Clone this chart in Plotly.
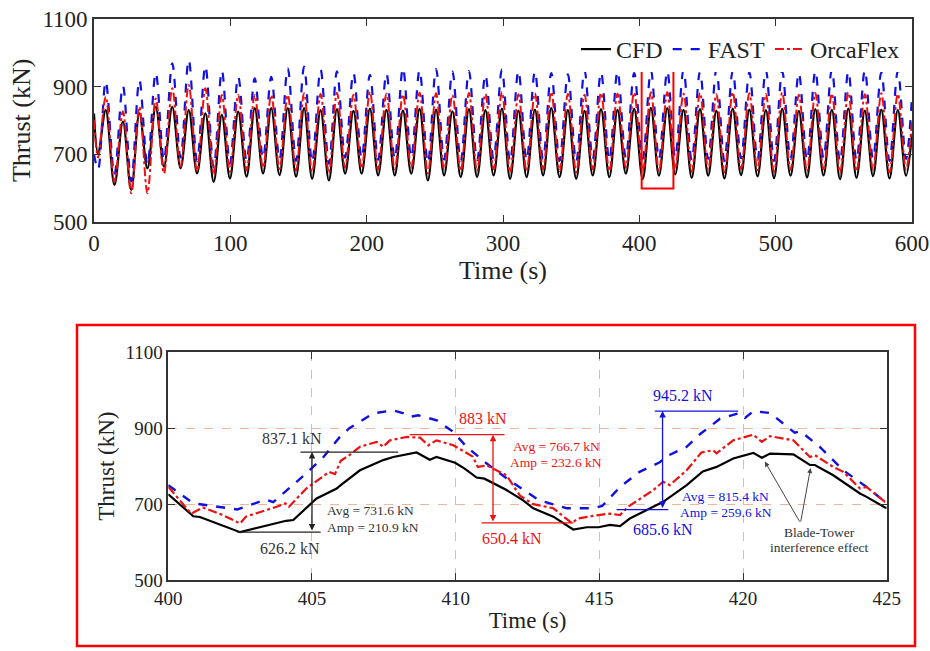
import plotly.graph_objects as go

# ---------------- Top panel data: extrema read from the 0-600 s record ----------------
trough_time = [3.0, 15.0, 27.3, 39.2, 51.3, 63.5, 75.6, 87.8, 99.7, 111.9,
               124.0, 136.1, 148.2, 160.0, 172.3, 184.2, 196.3, 208.4, 220.6, 232.7,
               244.9, 256.8, 269.0, 281.0, 293.1, 305.2, 317.3, 329.4, 341.5, 353.7,
               365.8, 378.0, 390.1, 402.5, 414.4, 426.3, 438.4, 450.5, 462.4, 474.6,
               486.7, 498.8, 510.9, 523.0, 535.1, 547.2, 559.3, 571.4, 583.5, 595.6]
peak_time = [8.6, 21.2, 33.3, 45.3, 57.4, 69.5, 81.7, 93.8, 105.8, 117.9,
             130.0, 142.1, 154.1, 166.2, 178.2, 190.3, 202.4, 214.5, 226.6, 238.8,
             250.9, 262.9, 275.0, 287.1, 299.2, 311.3, 323.4, 335.4, 347.6, 359.8,
             371.9, 384.0, 396.2, 408.5, 420.5, 432.4, 444.5, 456.5, 468.5, 480.7,
             492.8, 504.8, 517.0, 529.1, 541.2, 553.3, 565.4, 577.5, 589.6]
start_time, end_time = 0.0, 600.0

cfd_start, cfd_end = 820, 760
cfd_trough = [700, 609, 594, 658, 663, 658, 643, 618, 628, 633, 643, 638, 633, 627, 622, 642, 642,
              637, 637, 642, 622, 637, 632, 632, 637, 627, 632, 637, 632, 627, 637, 632, 642, 626,
              636, 640, 630, 636, 628, 638, 634, 629, 636, 631, 637, 626, 630, 635, 628, 636]
cfd_peak = [830, 796, 821, 840, 840, 830, 821, 816, 826, 836, 836, 836, 836, 830, 833, 828, 835,
            831, 829, 834, 832, 827, 833, 830, 835, 829, 832, 836, 830, 828, 833, 831, 834, 837,
            836, 831, 833, 829, 835, 832, 830, 834, 828, 833, 831, 835, 829, 832, 830]

fast_start, fast_end = 700, 870
fast_trough = [655, 640, 620, 668, 682, 690, 680, 660, 672, 680, 688, 684, 680, 676, 672, 690, 688,
               684, 686, 690, 674, 684, 680, 682, 686, 678, 682, 686, 680, 678, 686, 682, 690, 686,
               686, 690, 682, 686, 680, 688, 684, 680, 686, 682, 688, 678, 682, 686, 680, 686]
fast_peak = [915, 902, 919, 941, 969, 979, 961, 947, 929, 924, 929, 954, 959, 950, 945, 940, 935,
             938, 955, 948, 952, 944, 946, 935, 950, 946, 944, 940, 936, 948, 942, 945, 940, 947,
             945, 948, 944, 950, 946, 942, 949, 945, 940, 946, 950, 944, 948, 942, 946]

orca_start, orca_end = 800, 800
orca_trough = [690, 618, 584, 584, 643, 663, 650, 640, 648, 652, 660, 656, 652, 648, 644, 660, 658,
               654, 655, 660, 643, 655, 650, 650, 656, 646, 650, 655, 650, 646, 655, 650, 660, 650,
               650, 657, 648, 654, 646, 656, 652, 647, 654, 649, 655, 645, 649, 654, 646, 654]
orca_peak = [870, 826, 840, 865, 895, 905, 895, 875, 875, 875, 875, 875, 880, 878, 882, 876, 884,
             879, 877, 882, 880, 875, 881, 878, 883, 877, 880, 884, 878, 876, 881, 879, 882, 883,
             883, 879, 881, 877, 883, 880, 878, 882, 876, 881, 879, 883, 877, 880, 878]

# ---------------- Bottom panel data: 400-425 s detail ----------------
cfd_t = [400.0, 400.87, 401.1, 402.5, 403.5, 404.1, 404.35, 405.16, 405.86, 406.0, 406.67, 407.48,
         407.83, 408.64, 409.1, 409.33, 409.98, 410.3, 410.73, 411.0, 411.77, 412.35, 412.7, 413.4,
         414.09, 414.56, 414.97, 415.37, 415.72, 416.06, 417.22, 417.45, 418.04, 418.6, 419.08,
         419.66, 420.36, 420.65, 420.94, 421.75, 422.33, 422.5, 423.14, 424.07, 424.3, 424.94, 425.0]
cfd_v = [726, 668, 666, 626, 645, 656, 658, 715, 741, 750, 789, 816,
         824, 836, 817, 824, 809, 794, 770, 767, 737, 710, 689, 667,
         633, 639, 639, 645, 642, 662, 706, 719, 750, 786, 798,
         820, 835, 822, 833, 831, 803, 803, 776, 728, 719, 691, 690]

fast_t = [400.0, 400.87, 402.4, 403.4, 403.65, 404.8, 405.4, 405.97, 406.3, 406.55, 407.13, 407.83,
          408.2, 408.4, 408.7, 409.34, 409.92, 410.38, 411.08, 411.77, 412.35, 412.9, 413.86, 414.79,
          415.1, 415.72, 416.4, 417.1, 417.34, 418.04, 418.5, 419.2, 419.89, 420.07, 420.36, 420.94,
          421.6, 421.8, 422.0, 422.67, 423.49, 424.3, 424.94, 425.0]
fast_v = [750, 702, 686, 712, 705, 781, 824, 877, 900, 912, 939, 947,
          939, 930, 934, 921, 890, 851, 807, 768, 737, 710, 689, 689,
          695, 745, 785, 810, 826, 851, 884, 925, 940, 927, 945, 940,
          900, 888, 892, 851, 789, 745, 706, 705]

orca_t = [400.0, 400.8, 401.2, 401.9, 402.5, 402.7, 403.77, 404.07, 404.2, 404.8, 405.6, 405.8,
          406.0, 406.3, 406.67, 407.25, 407.48, 407.71, 408.3, 408.76, 409.05, 409.33, 409.92, 410.6,
          410.77, 411.08, 411.77, 412.24, 412.7, 413.4, 414.04, 414.26, 414.97, 415.37, 415.72, 416.0,
          416.88, 417.22, 417.45, 418.04, 418.55, 418.96, 419.08, 419.66, 420.36, 420.65, 420.94,
          421.75, 422.33, 422.5, 423.14, 423.49, 424.07, 424.3, 424.94, 425.0]
orca_v = [745, 675, 691, 671, 649, 667, 693, 702, 693, 741, 785, 779,
          814, 829, 851, 864, 851, 868, 877, 875, 855, 868, 855, 825,
          798, 802, 776, 722, 700, 689, 650, 662, 671, 675, 671, 693,
          737, 759, 750, 789, 836, 842, 834, 868, 883, 864, 879,
          868, 824, 829, 798, 785, 741, 745, 706, 705]


def interleave(start, troughs, peaks, end):
    out = [start]
    for i, tv in enumerate(troughs):
        out.append(tv)
        if i < len(peaks):
            out.append(peaks[i])
    out.append(end)
    return out


top_time = interleave(start_time, trough_time, peak_time, end_time)
cfd_top = interleave(cfd_start, cfd_trough, cfd_peak, cfd_end)
fast_top = interleave(fast_start, fast_trough, fast_peak, fast_end)
orca_top = interleave(orca_start, orca_trough, orca_peak, orca_end)

BLACK = "#000000"
BLUE = "#1010e0"
RED = "#ee1111"
GRID = "#f0b49c"
FONT = "Times New Roman, Liberation Serif, Times, serif"

fig = go.Figure()

# top panel
fig.add_trace(go.Scatter(x=top_time, y=cfd_top, mode="lines", name="CFD",
                         line=dict(color=BLACK, width=2.2, shape="spline", smoothing=1.0),
                         xaxis="x", yaxis="y"))
fig.add_trace(go.Scatter(x=top_time, y=fast_top, mode="lines", name="FAST",
                         line=dict(color=BLUE, width=2.2, dash="dash", shape="spline", smoothing=1.0),
                         xaxis="x", yaxis="y"))
fig.add_trace(go.Scatter(x=top_time, y=orca_top, mode="lines", name="OrcaFlex",
                         line=dict(color=RED, width=2, dash="dashdot", shape="spline", smoothing=1.0),
                         xaxis="x", yaxis="y"))

# bottom panel
fig.add_trace(go.Scatter(x=cfd_t, y=cfd_v, mode="lines", showlegend=False,
                         line=dict(color=BLACK, width=2.2), xaxis="x2", yaxis="y2"))
fig.add_trace(go.Scatter(x=fast_t, y=fast_v, mode="lines", showlegend=False,
                         line=dict(color=BLUE, width=2.4, dash="dash"), xaxis="x2", yaxis="y2"))
fig.add_trace(go.Scatter(x=orca_t, y=orca_v, mode="lines", showlegend=False,
                         line=dict(color=RED, width=2.2, dash="dashdot"), xaxis="x2", yaxis="y2"))

W, H = 930, 651
axis_common = dict(showline=True, linecolor="#333333", linewidth=1.6, mirror="ticks",
                   ticks="inside", tickcolor="#333333", zeroline=False, automargin=False)

fig.update_layout(
    width=W, height=H,
    margin=dict(l=0, r=0, t=0, b=0, autoexpand=False),
    paper_bgcolor="white", plot_bgcolor="white",
    font=dict(family=FONT, color="#222222"),
    xaxis=dict(domain=[94 / W, 912 / W], range=[0, 600], tickvals=[0, 100, 200, 300, 400, 500, 600],
               ticklen=7, showgrid=False, tickfont=dict(size=23), anchor="y",
               title=dict(text="Time (s)", font=dict(size=26), standoff=2), **axis_common),
    yaxis=dict(domain=[1 - 221.7 / H, 1 - 19 / H], range=[500, 1100], tickvals=[500, 700, 900, 1100],
               ticklen=7, showgrid=False, tickfont=dict(size=23), anchor="x",
               title=dict(text="Thrust (kN)", font=dict(size=26), standoff=4), **axis_common),
    xaxis2=dict(domain=[168.3 / W, 886.7 / W], range=[400, 425], tickvals=[400, 405, 410, 415, 420, 425],
                ticklen=7, showgrid=True, gridcolor=GRID, griddash="dash", gridwidth=1,
                tickfont=dict(size=19), anchor="y2",
                title=dict(text="Time (s)", font=dict(size=23), standoff=4), **axis_common),
    yaxis2=dict(domain=[1 - 580 / H, 1 - 352.3 / H], range=[500, 1100], tickvals=[500, 700, 900, 1100],
                ticklen=7, showgrid=True, gridcolor=GRID, griddash="dash", gridwidth=1,
                tickfont=dict(size=19), anchor="x2",
                title=dict(text="Thrust (kN)", font=dict(size=23), standoff=4), **axis_common),
    legend=dict(orientation="h", x=905 / W, xanchor="right", y=1 - 27 / H, yanchor="top",
                bgcolor="white", font=dict(size=24, family=FONT, color="#222222"),
                itemwidth=30, tracegroupgap=0),
)

shapes = []
# red highlight box in top panel
shapes.append(dict(type="rect", xref="x", yref="y", x0=401.7, x1=425, y0=598, y1=975,
                   line=dict(color="#ff0000", width=2)))
# red frame around bottom panel
shapes.append(dict(type="rect", xref="paper", yref="paper", x0=77 / W, x1=915 / W,
                   y0=1 - 646 / H, y1=1 - 325 / H, line=dict(color="#ff0000", width=2.5)))
# horizontal reference lines in bottom panel
hlines = [
    (404.6, 408.0, 837.1, "#222222"), (402.4, 405.3, 626.2, "#222222"),
    (408.4, 411.7, 883.0, RED), (410.9, 414.1, 650.4, RED),
    (416.93, 419.83, 945.2, BLUE), (415.6, 417.4, 685.6, BLUE),
]
for x0, x1, yv, c in hlines:
    shapes.append(dict(type="line", xref="x2", yref="y2", x0=x0, x1=x1, y0=yv, y1=yv,
                       line=dict(color=c, width=1.2)))
fig.update_layout(shapes=shapes)

ann = []
# double arrows
for xv, y0, y1, c in [(405.0, 626.2, 837.1, "#222222"), (411.3, 650.4, 883.0, RED),
                      (417.2, 685.6, 945.2, BLUE)]:
    ann.append(dict(x=xv, y=y1, ax=xv, ay=y0, xref="x2", yref="y2", axref="x2", ayref="y2",
                    text="", showarrow=True, arrowhead=2, arrowsize=1, arrowwidth=1.3,
                    arrowcolor=c, arrowside="end+start"))

LBL = 16
SML = 13.5
labels = [
    ("837.1 kN", 404.3, 873, "#333333", LBL, "center"),
    ("626.2 kN", 404.25, 584, "#333333", LBL, "center"),
    ("883 kN", 410.96, 925, RED, LBL, "center"),
    ("650.4 kN", 411.95, 610, RED, LBL, "center"),
    ("945.2 kN", 417.9, 987, BLUE, LBL, "center"),
    ("685.6 kN", 417.2, 632, BLUE, LBL, "center"),
    ("Avg = 731.6 kN", 405.45, 684, "#333333", SML, "left"),
    ("Amp = 210.9 kN", 405.45, 639, "#333333", SML, "left"),
    ("Avg = 766.7 kN", 413.5, 851, RED, SML, "center"),
    ("Amp = 232.6 kN", 413.5, 809, RED, SML, "center"),
    ("Avg = 815.4 kN", 419.4, 719, BLUE, SML, "center"),
    ("Amp = 259.6 kN", 419.4, 677, BLUE, SML, "center"),
    ("Blade-Tower", 422.67, 624.5, "#333333", SML, "center"),
    ("interference effect", 422.67, 585, "#333333", SML, "center"),
]
for txt, xv, yv, c, s, anc in labels:
    ann.append(dict(x=xv, y=yv, xref="x2", yref="y2", text=txt, showarrow=False,
                    xanchor=anc, yanchor="middle", font=dict(size=s, color=c, family=FONT)))

# arrows pointing to blade-tower interference dips
for tx, ty in [(420.76, 812), (422.35, 795)]:
    ann.append(dict(x=tx, y=ty, ax=422.0, ay=650, xref="x2", yref="y2", axref="x2", ayref="y2",
                    text="", showarrow=True, arrowhead=2, arrowsize=1, arrowwidth=1,
                    arrowcolor="#444444"))

fig.update_layout(annotations=ann)

fig.write_html("out.html")
